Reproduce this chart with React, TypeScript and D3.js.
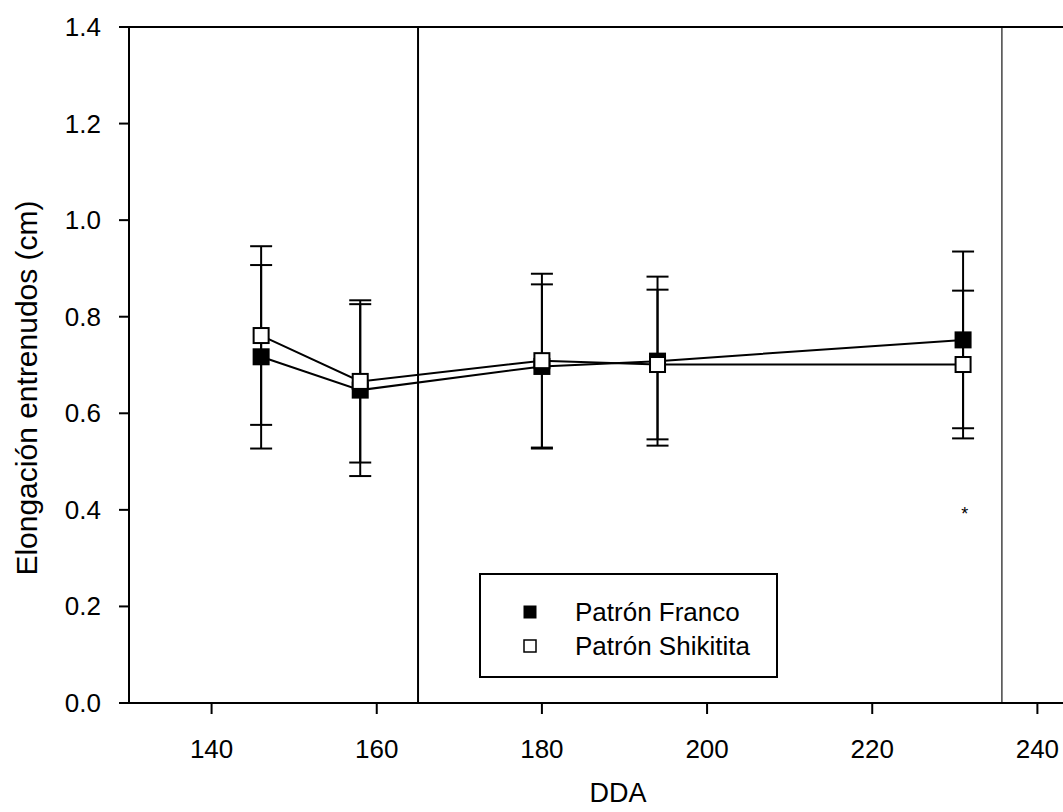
import React from "react";
import * as d3 from "d3";

const ddaDays = [146, 158, 180, 194, 231];
const francoMean = [0.717, 0.648, 0.697, 0.708, 0.752];
const francoErr = [0.19, 0.178, 0.17, 0.175, 0.183];
const shikititaMean = [0.761, 0.666, 0.709, 0.701, 0.701];
const shikititaErr = [0.185, 0.168, 0.18, 0.155, 0.153];
const xTicks = [140, 160, 180, 200, 220, 240];
const yTicks = [0, 0.2, 0.4, 0.6, 0.8, 1.0, 1.2, 1.4];
const refLines = [165, 235.7];
const asteriskPoint = [231.2, 0.396];
const seriesNames = ["Patrón Franco", "Patrón Shikitita"];

const W = 1063;
const H = 812;
const FONT = "'Liberation Sans', Arial, Helvetica, sans-serif";

export default function App() {
  const x = d3.scaleLinear().domain([130, 243.1]).range([129, 1063]);
  const y = d3.scaleLinear().domain([0, 1.4]).range([703, 27]);
  const line = d3
    .line<[number, number]>()
    .x((d) => x(d[0]))
    .y((d) => y(d[1]));

  const series = [
    { mean: francoMean, err: francoErr, fill: "#000" },
    { mean: shikititaMean, err: shikititaErr, fill: "#fff" },
  ];
  const sq = 15;
  const cap = 11;

  return (
    <svg
      width={W}
      height={H}
      style={{ position: "absolute", left: 0, top: 0, background: "#fff" }}
      fontFamily={FONT}
    >
      <rect x={0} y={0} width={W} height={H} fill="#fff" />
      {/* reference vertical lines */}
      <line x1={x(refLines[0])} x2={x(refLines[0])} y1={y(1.4)} y2={y(0)} stroke="#000" strokeWidth={2} />
      <line x1={x(refLines[1])} x2={x(refLines[1])} y1={y(1.4)} y2={y(0)} stroke="#444" strokeWidth={1.5} />

      {/* error bars */}
      {series.map((s, si) =>
        ddaDays.map((d, i) => {
          const cx = x(d);
          const top = y(s.mean[i] + s.err[i]);
          const bot = y(s.mean[i] - s.err[i]);
          return (
            <g key={`e${si}-${i}`} stroke="#000" strokeWidth={2}>
              <line x1={cx} x2={cx} y1={top} y2={bot} />
              <line x1={cx - cap} x2={cx + cap} y1={top} y2={top} />
              <line x1={cx - cap} x2={cx + cap} y1={bot} y2={bot} />
            </g>
          );
        })
      )}

      {/* series lines and markers */}
      {series.map((s, si) => (
        <g key={`s${si}`}>
          <path
            d={line(ddaDays.map((d, i) => [d, s.mean[i]] as [number, number])) || ""}
            fill="none"
            stroke="#000"
            strokeWidth={2}
          />
          {ddaDays.map((d, i) => (
            <rect
              key={i}
              x={x(d) - sq / 2}
              y={y(s.mean[i]) - sq / 2}
              width={sq}
              height={sq}
              fill={s.fill}
              stroke="#000"
              strokeWidth={2}
            />
          ))}
        </g>
      ))}

      <text x={x(asteriskPoint[0])} y={y(asteriskPoint[1]) + 8} fontSize={18} textAnchor="middle" fill="#000">
        *
      </text>

      {/* axes */}
      <line x1={129} x2={W} y1={y(0)} y2={y(0)} stroke="#000" strokeWidth={2} />
      <line x1={129} x2={W} y1={y(1.4)} y2={y(1.4)} stroke="#000" strokeWidth={2} />
      <line x1={129} x2={129} y1={y(0)} y2={y(1.4) - 1} stroke="#000" strokeWidth={2} />
      {xTicks.map((t) => (
        <g key={`xt${t}`}>
          <line x1={x(t)} x2={x(t)} y1={y(0)} y2={y(0) + 11} stroke="#000" strokeWidth={2} />
          <text x={x(t)} y={y(0) + 55} fontSize={26} textAnchor="middle" fill="#000">
            {t}
          </text>
        </g>
      ))}
      {yTicks.map((t) => (
        <g key={`yt${t}`}>
          <line x1={119} x2={129} y1={y(t)} y2={y(t)} stroke="#000" strokeWidth={2} />
          <text x={101} y={y(t) + 9} fontSize={26} textAnchor="end" fill="#000">
            {t.toFixed(1)}
          </text>
        </g>
      ))}
      <text x={618} y={802} fontSize={27} textAnchor="middle" fill="#000">
        DDA
      </text>
      <text
        transform={`translate(37, ${388}) rotate(-90)`}
        fontSize={30}
        textAnchor="middle"
        fill="#000"
      >
        Elongación entrenudos (cm)
      </text>

      {/* legend */}
      <rect x={480} y={574} width={297} height={103} fill="#fff" stroke="#000" strokeWidth={2} />
      <rect x={524} y={606} width={12} height={12} fill="#000" stroke="#000" strokeWidth={1} />
      <rect x={524} y={640} width={12} height={12} fill="#fff" stroke="#000" strokeWidth={1.5} />
      <text x={575} y={621} fontSize={26} fill="#000">
        {seriesNames[0]}
      </text>
      <text x={575} y={655} fontSize={26} fill="#000">
        {seriesNames[1]}
      </text>
    </svg>
  );
}
